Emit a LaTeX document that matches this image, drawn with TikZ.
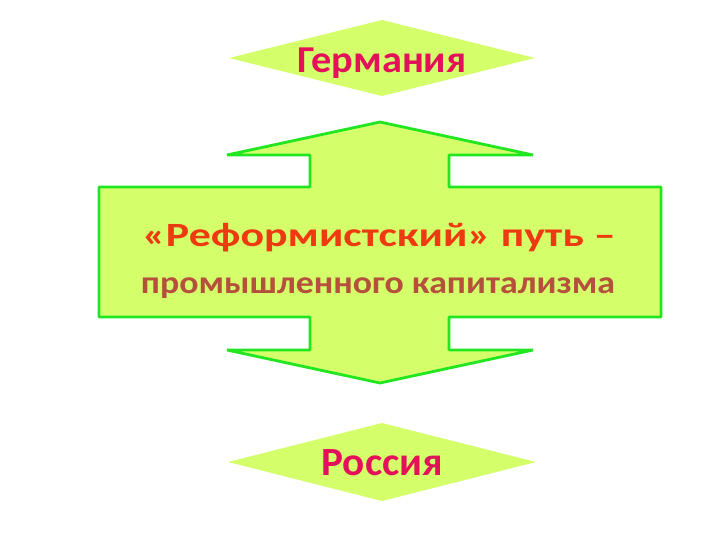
\documentclass[tikz,border=0pt]{standalone}
\usepackage{fontspec}
\setmainfont{Carlito}
\definecolor{fillg}{HTML}{D4FF6A}
\definecolor{lineg}{HTML}{22E622}
\definecolor{crim}{HTML}{E4105A}
\definecolor{orred}{HTML}{EE3A10}
\definecolor{brwn}{HTML}{B4503C}
\begin{document}
\begin{tikzpicture}[x=1pt,y=-1pt,
  lbl/.style={inner sep=0pt, anchor=base, font=\bfseries}]
\useasboundingbox (0,0) rectangle (720,540);
% top diamond
\fill[fillg] (229,58) -- (382,20) -- (535,58) -- (382,96) -- cycle;
\node[lbl, text=crim, font=\bfseries\fontsize{38}{40}\selectfont] (ger) at (382,73) {\scalebox{1.06}[1]{Германия}};
% cross shape
\draw[fill=fillg, draw=lineg, line width=2.8pt, line join=miter, miter limit=1]
  (380,122) -- (533,155) -- (449,155) -- (449,187) -- (661,187) -- (661,317)
  -- (449,317) -- (449,350) -- (533,350) -- (380,383) -- (227,350) -- (310,350)
  -- (310,317) -- (99,317) -- (99,187) -- (310,187) -- (310,155) -- (227,155) -- cycle;
\node[lbl, text=orred, font=\bfseries\fontsize{34}{40}\selectfont] (l1) at (379,247) {\scalebox{1.29}[1]{«Реформистский» путь –}};
\node[lbl, text=brwn, font=\bfseries\fontsize{32}{40}\selectfont] (l2) at (378,293) {\scalebox{1.12}[1]{промышленного капитализма}};
% bottom diamond
\fill[fillg] (228,462) -- (382,423) -- (536,462) -- (382,501) -- cycle;
\node[lbl, text=crim, font=\bfseries\fontsize{40}{42}\selectfont] (rus) at (382,475) {\scalebox{1.03}[1]{Россия}};
\end{tikzpicture}
\end{document}
